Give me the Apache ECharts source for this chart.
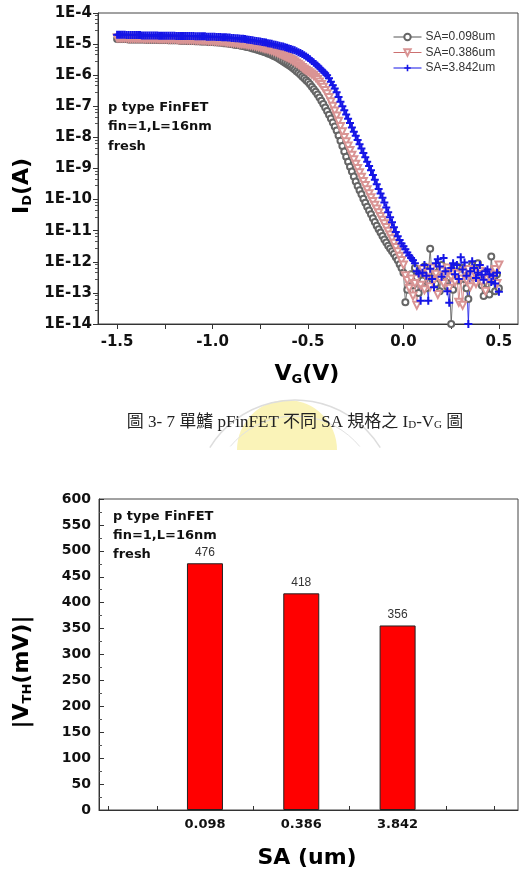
<!DOCTYPE html>
<html>
<head>
<meta charset="utf-8">
<script src="https://cdn.jsdelivr.net/npm/echarts@6/dist/echarts.min.js"></script>
<style>
html,body{margin:0;padding:0;background:#fff;}
#main{width:528px;height:879px;}
</style>
</head>
<body>
<div id="main"></div>
<script>
// gate sweep V_G (V)
var vg = [
  -1.5,-1.49,-1.48,-1.47,-1.46,-1.45,-1.44,-1.43,-1.42,-1.41,
  -1.4,-1.39,-1.38,-1.37,-1.36,-1.35,-1.34,-1.33,-1.32,-1.31,
  -1.3,-1.29,-1.28,-1.27,-1.26,-1.25,-1.24,-1.23,-1.22,-1.21,
  -1.2,-1.19,-1.18,-1.17,-1.16,-1.15,-1.14,-1.13,-1.12,-1.11,
  -1.1,-1.09,-1.08,-1.07,-1.06,-1.05,-1.04,-1.03,-1.02,-1.01,
  -1.0,-0.99,-0.98,-0.97,-0.96,-0.95,-0.94,-0.93,-0.92,-0.91,
  -0.9,-0.89,-0.88,-0.87,-0.86,-0.85,-0.84,-0.83,-0.82,-0.81,
  -0.8,-0.79,-0.78,-0.77,-0.76,-0.75,-0.74,-0.73,-0.72,-0.71,
  -0.7,-0.69,-0.68,-0.67,-0.66,-0.65,-0.64,-0.63,-0.62,-0.61,
  -0.6,-0.59,-0.58,-0.57,-0.56,-0.55,-0.54,-0.53,-0.52,-0.51,
  -0.5,-0.49,-0.48,-0.47,-0.46,-0.45,-0.44,-0.43,-0.42,-0.41,
  -0.4,-0.39,-0.38,-0.37,-0.36,-0.35,-0.34,-0.33,-0.32,-0.31,
  -0.3,-0.29,-0.28,-0.27,-0.26,-0.25,-0.24,-0.23,-0.22,-0.21,
  -0.2,-0.19,-0.18,-0.17,-0.16,-0.15,-0.14,-0.13,-0.12,-0.11,
  -0.1,-0.09,-0.08,-0.07,-0.06,-0.05,-0.04,-0.03,-0.02,-0.01,
  0.0,0.01,0.02,0.03,0.04,0.05,0.06,0.07,0.08,0.09,
  0.1,0.11,0.12,0.13,0.14,0.15,0.16,0.17,0.18,0.19,
  0.2,0.21,0.22,0.23,0.24,0.25,0.26,0.27,0.28,0.29,
  0.3,0.31,0.32,0.33,0.34,0.35,0.36,0.37,0.38,0.39,
  0.4,0.41,0.42,0.43,0.44,0.45,0.46,0.47,0.48,0.49,
  0.5
];

// log10(I_D), one value per V_G step
var logId098 = [
  -4.84,-4.84,-4.84,-4.84,-4.84,-4.84,-4.85,-4.85,-4.85,-4.85,
  -4.85,-4.85,-4.85,-4.85,-4.85,-4.86,-4.86,-4.86,-4.86,-4.86,
  -4.86,-4.86,-4.87,-4.87,-4.87,-4.87,-4.87,-4.88,-4.88,-4.88,
  -4.88,-4.88,-4.88,-4.89,-4.89,-4.89,-4.89,-4.90,-4.90,-4.90,
  -4.90,-4.91,-4.91,-4.91,-4.92,-4.92,-4.92,-4.92,-4.93,-4.93,
  -4.93,-4.94,-4.94,-4.95,-4.95,-4.96,-4.97,-4.97,-4.98,-4.99,
  -5.00,-5.01,-5.02,-5.03,-5.04,-5.05,-5.06,-5.08,-5.09,-5.10,
  -5.12,-5.14,-5.15,-5.17,-5.19,-5.21,-5.23,-5.25,-5.27,-5.30,
  -5.32,-5.35,-5.38,-5.41,-5.44,-5.48,-5.52,-5.56,-5.60,-5.64,
  -5.68,-5.72,-5.77,-5.82,-5.87,-5.92,-5.98,-6.04,-6.10,-6.16,
  -6.22,-6.29,-6.37,-6.45,-6.53,-6.62,-6.72,-6.82,-6.93,-7.04,
  -7.15,-7.27,-7.39,-7.52,-7.65,-7.78,-7.94,-8.11,-8.28,-8.45,
  -8.62,-8.78,-8.94,-9.10,-9.26,-9.42,-9.56,-9.70,-9.83,-9.97,
  -10.10,-10.23,-10.35,-10.47,-10.60,-10.72,-10.84,-10.95,-11.06,-11.17,
  -11.28,-11.38,-11.48,-11.57,-11.66,-11.75,-11.85,-11.95,-12.08,-12.20,
  -12.35,-13.30,-12.90,-12.60,-12.40,-12.75,-12.20,-12.50,-13.00,-12.30,
  -12.60,-12.15,-12.85,-12.40,-11.58,-12.55,-12.20,-12.70,-12.35,-12.95,
  -12.10,-12.45,-12.25,-12.80,-12.50,-14.00,-12.90,-12.35,-12.15,-12.60,
  -12.40,-12.20,-12.55,-12.85,-13.20,-12.30,-12.10,-12.50,-12.20,-12.05,
  -12.35,-12.75,-13.10,-12.90,-12.45,-13.05,-11.83,-12.60,-12.95,-12.40,
  -12.85
];
var logId386 = [
  -4.80,-4.80,-4.80,-4.80,-4.80,-4.80,-4.81,-4.81,-4.81,-4.81,
  -4.81,-4.81,-4.81,-4.81,-4.82,-4.82,-4.82,-4.82,-4.82,-4.82,
  -4.82,-4.82,-4.83,-4.83,-4.83,-4.83,-4.83,-4.84,-4.84,-4.84,
  -4.84,-4.84,-4.85,-4.85,-4.85,-4.85,-4.85,-4.86,-4.86,-4.86,
  -4.86,-4.86,-4.87,-4.87,-4.87,-4.88,-4.88,-4.88,-4.89,-4.89,
  -4.89,-4.90,-4.90,-4.91,-4.91,-4.92,-4.92,-4.93,-4.94,-4.94,
  -4.95,-4.96,-4.96,-4.97,-4.98,-4.99,-4.99,-5.00,-5.01,-5.02,
  -5.03,-5.04,-5.05,-5.06,-5.08,-5.09,-5.11,-5.13,-5.14,-5.16,
  -5.18,-5.20,-5.22,-5.25,-5.27,-5.30,-5.33,-5.36,-5.39,-5.42,
  -5.45,-5.49,-5.53,-5.57,-5.61,-5.65,-5.70,-5.75,-5.80,-5.84,
  -5.88,-5.92,-5.96,-6.01,-6.07,-6.14,-6.22,-6.30,-6.39,-6.49,
  -6.60,-6.72,-6.85,-7.00,-7.15,-7.31,-7.48,-7.65,-7.82,-8.00,
  -8.14,-8.28,-8.42,-8.57,-8.72,-8.86,-9.00,-9.14,-9.28,-9.42,
  -9.55,-9.68,-9.81,-9.94,-10.06,-10.18,-10.30,-10.42,-10.54,-10.66,
  -10.78,-10.90,-11.02,-11.14,-11.26,-11.40,-11.54,-11.68,-11.82,-11.96,
  -12.10,-12.45,-12.60,-12.85,-12.55,-13.10,-12.70,-13.40,-12.40,-12.75,
  -12.25,-12.90,-12.50,-12.35,-12.80,-12.20,-12.60,-12.40,-13.05,-12.55,
  -12.30,-12.70,-12.45,-12.20,-12.85,-12.50,-12.35,-12.65,-12.40,-13.30,
  -12.55,-13.40,-12.30,-12.60,-12.25,-12.80,-12.45,-12.35,-12.70,-12.50,
  -12.30,-12.65,-12.40,-12.95,-12.55,-12.35,-12.60,-12.45,-12.25,-12.70,
  -12.10
];
var logId3842 = [
  -4.70,-4.70,-4.70,-4.70,-4.70,-4.71,-4.71,-4.71,-4.71,-4.71,
  -4.71,-4.71,-4.71,-4.72,-4.72,-4.72,-4.72,-4.72,-4.72,-4.72,
  -4.72,-4.72,-4.73,-4.73,-4.73,-4.73,-4.73,-4.73,-4.73,-4.73,
  -4.73,-4.74,-4.74,-4.74,-4.74,-4.74,-4.74,-4.74,-4.74,-4.74,
  -4.74,-4.75,-4.75,-4.75,-4.75,-4.75,-4.75,-4.76,-4.76,-4.76,
  -4.76,-4.76,-4.77,-4.77,-4.77,-4.78,-4.78,-4.78,-4.79,-4.79,
  -4.80,-4.80,-4.81,-4.81,-4.82,-4.83,-4.83,-4.84,-4.85,-4.86,
  -4.87,-4.88,-4.89,-4.90,-4.91,-4.92,-4.93,-4.94,-4.95,-4.97,
  -4.98,-4.99,-5.01,-5.02,-5.04,-5.05,-5.07,-5.08,-5.10,-5.12,
  -5.14,-5.16,-5.18,-5.20,-5.23,-5.26,-5.29,-5.32,-5.36,-5.40,
  -5.44,-5.49,-5.54,-5.59,-5.64,-5.70,-5.76,-5.82,-5.88,-5.94,
  -6.00,-6.10,-6.21,-6.32,-6.43,-6.55,-6.70,-6.85,-7.00,-7.13,
  -7.26,-7.40,-7.54,-7.68,-7.82,-7.95,-8.08,-8.22,-8.36,-8.50,
  -8.64,-8.78,-8.92,-9.06,-9.21,-9.36,-9.51,-9.66,-9.80,-9.94,
  -10.09,-10.25,-10.41,-10.57,-10.73,-10.89,-11.04,-11.18,-11.30,-11.41,
  -11.50,-11.60,-11.70,-11.80,-11.88,-11.95,-12.05,-12.30,-12.38,-13.25,
  -12.35,-12.10,-12.45,-13.25,-12.22,-12.55,-12.82,-12.05,-11.92,-12.15,
  -12.48,-11.88,-12.30,-12.95,-13.32,-12.20,-12.05,-12.40,-12.10,-12.55,
  -11.85,-12.25,-12.02,-12.45,-14.00,-12.30,-11.98,-12.20,-12.52,-12.35,
  -12.10,-12.42,-12.58,-12.30,-12.25,-12.40,-12.65,-12.45,-12.70,-12.35,
  -12.96
];
var idNames = ['SA=0.098um', 'SA=0.386um', 'SA=3.842um'];
var vgTicks = [-1.5, -1.25, -1, -0.75, -0.5, -0.25, 0, 0.25, 0.5];
var vgLabels = [-1.5, -1, -0.5, 0, 0.5];

// |Vth| vs SA
var saLabels = ['0.098', '0.386', '3.842'];
var vth = [476, 418, 356];
var saTicks = [1, 1.5, 2, 2.5, 3, 3.5, 4, 4.5, 5];

var BOLD = 'DejaVu Sans';
var ARIAL = 'Liberation Sans';

function toPts(logs) {
  return vg.map(function (v, i) { return [v, Math.pow(10, logs[i])]; });
}

var chart = echarts.init(document.getElementById('main'));

var titleRich = {
  b: { fontFamily: BOLD, fontWeight: 'bold', fontSize: 22, fill: '#000' },
  s: { fontFamily: BOLD, fontWeight: 'bold', fontSize: 13, fill: '#000', padding: [12, 0, 0, 0] }
};

function titleText(x, y, text, rotated) {
  return {
    type: 'text', z: 10, x: x, y: y, rotation: rotated ? Math.PI / 2 : 0,
    style: { text: text, align: 'center', verticalAlign: 'middle', rich: titleRich }
  };
}

var option = {
  animation: false,
  backgroundColor: '#fff',
  grid: [
    { left: 98, right: 10, top: 13, height: 311, show: true, borderColor: '#444', borderWidth: 1, backgroundColor: 'transparent' },
    { left: 99, right: 10, top: 499, height: 311, show: true, borderColor: '#444', borderWidth: 1, backgroundColor: 'transparent' }
  ],
  legend: {
    data: idNames,
    orient: 'vertical',
    left: 393,
    top: 31,
    padding: 0,
    itemWidth: 28,
    itemHeight: 8,
    itemGap: 3.5,
    lineStyle: { width: 1 },
    textStyle: { fontFamily: ARIAL, fontSize: 12, color: '#333', padding: [0, 0, 0, -1] }
  },
  xAxis: [
    {
      gridIndex: 0, type: 'value', min: -1.6, max: 0.6,
      axisLine: { onZero: false, lineStyle: { color: '#333', width: 1 } },
      axisTick: { show: true, customValues: vgTicks, length: 5, lineStyle: { color: '#333' } },
      axisLabel: {
        customValues: vgLabels, margin: 11,
        fontFamily: BOLD, fontWeight: 'bold', fontSize: 15, color: '#111',
        formatter: function (v) { return v.toFixed(1); }
      },
      splitLine: { show: false }
    },
    {
      gridIndex: 1, type: 'value', min: 0.9, max: 5.25,
      axisLine: { onZero: false, lineStyle: { color: '#333', width: 1 } },
      axisTick: { show: true, inside: true, customValues: saTicks, length: 4, lineStyle: { color: '#333' } },
      axisLabel: {
        customValues: [2, 3, 4], margin: 8,
        fontFamily: BOLD, fontWeight: 'bold', fontSize: 13, color: '#111',
        formatter: function (v) { return saLabels[Math.round(v) - 2]; }
      },
      splitLine: { show: false }
    }
  ],
  yAxis: [
    {
      gridIndex: 0, type: 'log', logBase: 10, min: 1e-14, max: 1e-4, interval: 1,
      axisLine: { show: true, onZero: false, lineStyle: { color: '#333', width: 1 } },
      axisTick: { show: true, length: 5, lineStyle: { color: '#333' } },
      minorTick: { show: true, splitNumber: 5, length: 3, lineStyle: { color: '#555' } },
      axisLabel: {
        margin: 6, fontFamily: BOLD, fontWeight: 'bold', fontSize: 15, color: '#111',
        formatter: function (v) { return '1E' + Math.round(Math.log10(v)); }
      },
      splitLine: { show: false }
    },
    {
      gridIndex: 1, type: 'value', min: 0, max: 600, interval: 50,
      axisLine: { show: true, onZero: false, lineStyle: { color: '#333', width: 1 } },
      axisTick: { show: true, inside: true, length: 5, lineStyle: { color: '#333' } },
      minorTick: { show: true, splitNumber: 2, length: 3, lineStyle: { color: '#555' } },
      axisLabel: { margin: 8, fontFamily: BOLD, fontWeight: 'bold', fontSize: 14, color: '#111' },
      splitLine: { show: false }
    }
  ],
  series: [
    {
      name: idNames[0], type: 'line', xAxisIndex: 0, yAxisIndex: 0,
      data: toPts(logId098),
      symbol: 'emptyCircle', symbolSize: 6,
      itemStyle: { color: '#666', borderWidth: 0.9 },
      lineStyle: { color: '#555', width: 0.8 }
    },
    {
      name: idNames[1], type: 'line', xAxisIndex: 0, yAxisIndex: 0,
      data: toPts(logId386),
      symbol: 'emptyTriangle', symbolRotate: 180, symbolSize: 7,
      itemStyle: { color: '#d99494', borderWidth: 0.9 },
      lineStyle: { color: '#cc7070', width: 0.8 }
    },
    {
      name: idNames[2], type: 'line', xAxisIndex: 0, yAxisIndex: 0,
      data: toPts(logId3842),
      symbol: 'path://M3,0H5V3H8V5H5V8H3V5H0V3H3Z', symbolSize: 8,
      itemStyle: { color: '#1515e6' },
      lineStyle: { color: '#1515e6', width: 0.8 }
    },
    {
      name: 'Vth', type: 'bar', xAxisIndex: 1, yAxisIndex: 1,
      data: saLabels.map(function (s, i) { return [i + 2, vth[i]]; }),
      barWidth: 36,
      itemStyle: { color: '#ff0000', borderColor: '#222', borderWidth: 1 },
      label: { show: true, position: 'top', distance: 5, fontFamily: ARIAL, fontSize: 12, color: '#333' }
    }
  ],
  graphic: [
    // faint school seal behind the caption
    { type: 'sector', z: 0, shape: { cx: 287, cy: 450, r0: 0, r: 50, startAngle: -Math.PI, endAngle: 0 },
      style: { fill: '#faf3b8' }, silent: true },
    { type: 'arc', z: 0, shape: { cx: 295, cy: 500, r: 100, startAngle: -2.59, endAngle: -0.55 },
      style: { stroke: '#dddddd', lineWidth: 1.5, fill: null }, silent: true },
    { type: 'arc', z: 0, shape: { cx: 295, cy: 500, r: 84, startAngle: -2.45, endAngle: -0.69 },
      style: { stroke: '#e2e2e2', lineWidth: 1, fill: null }, silent: true },
    { type: 'text', z: 10, x: 295, y: 423,
      style: {
        text: '圖 3- 7 單鰭 pFinFET 不同 SA 規格之 I{s|D}-V{s|G} 圖',
        fontFamily: '"Liberation Serif","Noto Sans CJK TC"', fontSize: 17, fill: '#222',
        align: 'center', verticalAlign: 'middle',
        rich: { s: { fontFamily: 'Liberation Serif', fontSize: 11, fill: '#222', padding: [5, 0, 0, 0] } }
      } },
    { type: 'text', z: 10, left: 108, top: 98,
      style: { text: 'p type FinFET\nfin=1,L=16nm\nfresh', fontFamily: BOLD, fontWeight: 'bold', fontSize: 13, lineHeight: 19.3, fill: '#111' } },
    { type: 'text', z: 10, left: 113, top: 507,
      style: { text: 'p type FinFET\nfin=1,L=16nm\nfresh', fontFamily: BOLD, fontWeight: 'bold', fontSize: 13, lineHeight: 19, fill: '#111' } },
    titleText(22, 186, '{b|I}{s|D}{b|(A)}', true),
    titleText(307, 374, '{b|V}{s|G}{b|(V)}', false),
    titleText(22, 672, '{b||V}{s|TH}{b|(mV)|}', true),
    titleText(307, 858, '{b|SA (um)}', false)
  ]
};

chart.setOption(option);
</script>
</body>
</html>
